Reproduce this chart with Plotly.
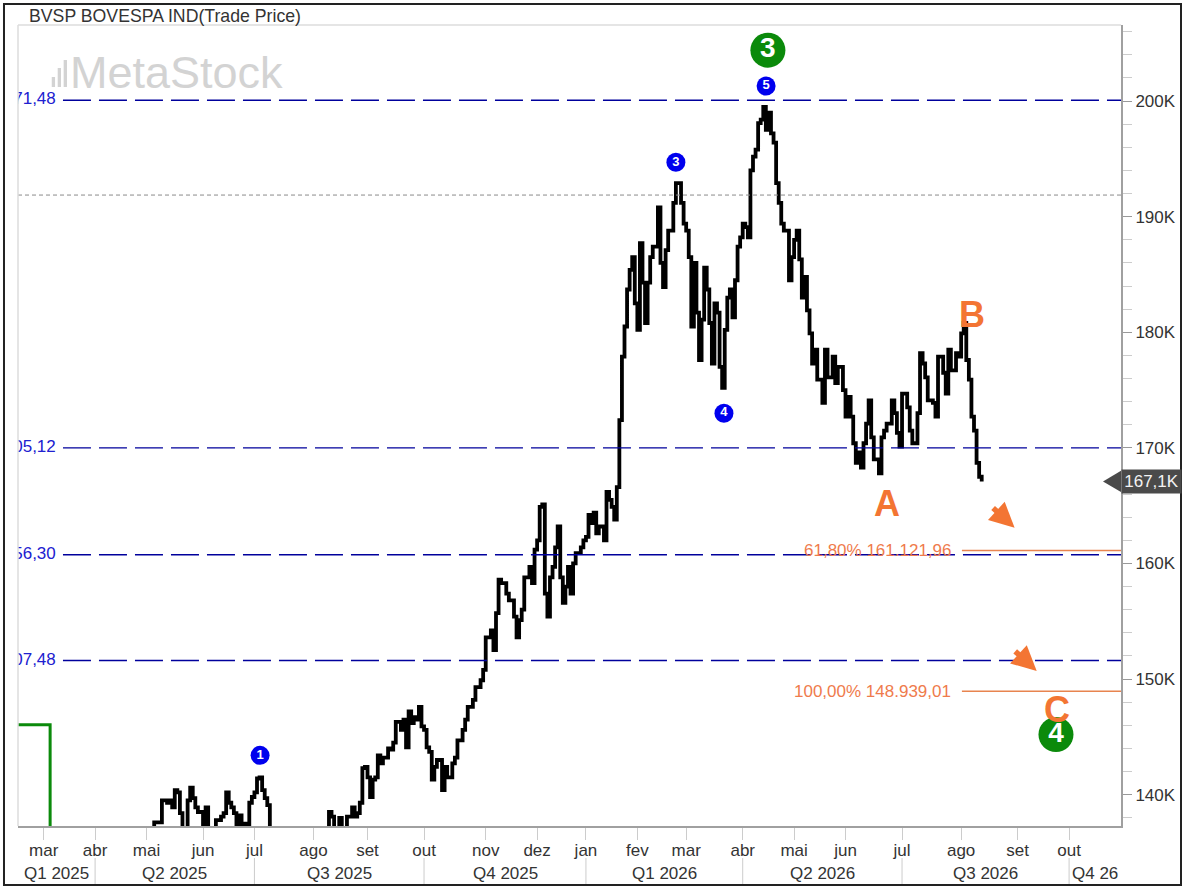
import plotly.graph_objects as go

# ---------------- data ----------------
sessions = [50, 52, 53, 55, 56, 58, 59, 60, 61, 62, 63, 64, 66, 67, 68, 69, 70, 72, 73, 74, 75, 77, 79, 80,
            81, 82, 83, 84, 85, 86, 87, 88, 89, 90, 91, 92, 93, 94, 95, 96, 97, 98, 100, 105, 112, 118,
            121, 122, 123, 125, 126, 127, 128, 130, 131, 132, 133, 134, 135, 136, 137, 138, 139, 140, 141,
            142, 144, 145, 146, 147, 149, 150, 151, 152, 153, 154, 155, 156, 157, 158, 159, 160, 161, 162,
            163, 165, 166, 167, 169, 170, 171, 173, 174, 175, 177, 178, 180, 181, 182, 184, 185, 186, 187,
            188, 189, 190, 191, 193, 194, 195, 196, 197, 198, 199, 200, 201, 202, 203, 204, 205, 206, 207,
            208, 209, 210, 211, 212, 213, 214, 215, 216, 217, 219, 220, 221, 222, 223, 224, 225, 226, 228,
            229, 230, 231, 232, 233, 234, 235, 236, 237, 238, 239, 240, 241, 242, 243, 244, 245, 246, 247,
            249, 250, 251, 252, 253, 255, 256, 258, 259, 260, 261, 262, 263, 264, 265, 266, 267, 268, 269,
            270, 271, 272, 273, 274, 275, 276, 277, 278, 279, 280, 281, 282, 283, 284, 285, 286, 287, 288,
            289, 290, 291, 292, 293, 294, 295, 296, 297, 298, 300, 301, 302, 303, 304, 305, 306, 307, 308,
            309, 310, 311, 313, 314, 315, 317, 318, 319, 321, 322, 323, 324, 325, 326, 327, 328, 329, 330,
            331, 332, 333, 335, 336, 337, 338, 340, 341, 342, 343, 344, 346, 347, 348, 350, 351, 352, 353,
            354, 356, 357, 358, 360, 361, 362, 363, 365, 366, 367, 368, 369, 370, 371, 372, 373, 374, 375]
close_k = [135.5, 136.6, 137.6, 137.6, 139.5, 139.3, 139.5, 138.9, 140.4, 140.2, 138.4, 137.0, 139.5, 140.6,
           139.7, 138.9, 138.5, 137.0, 138.9, 137.0, 136.9, 137.8, 138.1, 138.4, 140.2, 139.3, 138.9, 138.4,
           137.0, 138.2, 137.0, 137.5, 137.0, 139.3, 139.8, 140.2, 141.4, 141.5, 140.4, 139.7, 139.1, 137.0,
           135.6, 134.2, 133.5, 135.0, 138.5, 138.1, 137.0, 138.0, 137.0, 137.0, 138.1, 138.9, 138.1, 138.4,
           139.3, 142.3, 142.4, 141.5, 139.8, 141.3, 141.5, 143.4, 142.7, 143.2, 144.0, 143.9, 144.5, 146.3,
           145.6, 146.5, 144.1, 147.2, 146.2, 146.7, 146.5, 147.6, 145.9, 145.6, 144.1, 143.7, 141.3, 142.4,
           143.0, 140.4, 142.4, 141.5, 142.7, 143.2, 144.7, 145.6, 146.5, 147.6, 148.2, 149.3, 149.9, 150.8,
           153.6, 154.2, 152.5, 155.7, 158.6, 158.3, 158.3, 157.4, 156.8, 155.4, 153.6, 155.1, 156.0, 158.8,
           158.8, 159.7, 158.3, 161.2, 162.0, 164.9, 165.1, 157.4, 155.4, 158.8, 159.7, 161.4, 163.2, 158.8,
           156.6, 158.0, 159.7, 157.4, 160.0, 160.9, 161.4, 162.0, 162.3, 164.2, 163.5, 164.4, 162.6, 163.2,
           162.0, 166.2, 165.5, 164.9, 163.8, 166.6, 172.4, 177.9, 180.5, 183.7, 185.4, 186.5, 182.5, 180.2,
           187.7, 184.3, 180.8, 184.3, 186.5, 187.4, 190.8, 186.0, 183.9, 187.1, 188.8, 191.2, 192.9, 191.2,
           189.4, 188.8, 186.5, 180.5, 186.0, 181.7, 177.6, 181.1, 185.6, 183.7, 180.8, 177.3, 182.5, 181.7,
           177.0, 175.2, 180.2, 183.0, 183.7, 181.3, 184.5, 187.4, 188.2, 189.4, 189.1, 188.2, 194.0, 195.2,
           195.8, 198.1, 198.4, 199.5, 197.5, 199.0, 197.2, 196.4, 192.9, 191.2, 189.4, 188.8, 184.5, 186.5,
           188.0, 188.8, 186.3, 183.0, 184.8, 181.9, 179.9, 177.3, 178.5, 175.9, 173.9, 178.5, 176.1, 177.9,
           175.6, 177.0, 175.0, 172.7, 174.4, 172.7, 170.4, 168.7, 169.6, 168.3, 170.4, 172.1, 174.1, 170.9,
           169.0, 167.8, 170.9, 171.5, 172.1, 174.1, 173.0, 171.3, 170.1, 174.7, 173.5, 171.5, 170.4, 173.0,
           178.2, 177.3, 176.1, 174.1, 173.9, 172.7, 177.9, 176.5, 174.7, 178.5, 176.7, 178.2, 177.9, 179.9,
           180.8, 177.6, 175.9, 172.7, 171.5, 168.7, 167.5, 167.1]

month_sessions = [10, 30, 50, 72, 92, 115, 136, 158, 182, 202, 221, 241, 260, 282, 302, 322, 344, 367, 389, 409]
month_labels = ["mar", "abr", "mai", "jun", "jul", "ago", "set", "out", "nov", "dez",
                "jan", "fev", "mar", "abr", "mai", "jun", "jul", "ago", "set", "out"]
quarter_starts = [0, 30, 92, 158, 221, 282, 344, 409, 429.2]
quarter_labels = ["Q1 2025", "Q2 2025", "Q3 2025", "Q4 2025", "Q1 2026", "Q2 2026", "Q3 2026", "Q4 26"]

y_tick_values = [140, 150, 160, 170, 180, 190, 200]
y_tick_labels = ["140K", "150K", "160K", "170K", "180K", "190K", "200K"]

level_values = [200.07148, 170.00512, 160.75630, 151.60748]
level_labels = ["200.071,48", "170.005,12", "160.756,30", "151.607,48"]
pivot_level = 191.87

fib_values = [161.12196, 148.93901]
fib_labels = ["61,80% 161.121,96", "100,00% 148.939,01"]

minor_wave_x = [94.2, 256.0, 274.7, 291.1]
minor_wave_y = [143.4, 194.7, 173.0, 201.3]
minor_wave_labels = ["1", "3", "4", "5"]

major_wave_x = [291.8, 403.9]
major_wave_y = [204.4, 145.2]
major_wave_labels = ["3", "4"]

abc_x = [338.1, 371.2, 404.3]
abc_y = [164.9, 181.2, 147.1]
abc_labels = ["A", "B", "C"]

arrow_heads_x = [387.8, 396.4]
arrow_heads_y = [163.1, 150.7]

prior_wave_x = [-2, 12.5, 12.5]
prior_wave_y = [146.05, 146.05, 120.0]

last_price = 167.1
last_label = "167,1K"

X_RANGE = [0, 429.2]
Y_RANGE = [137.29, 206.58]

FONT = "Liberation Sans, Arial, sans-serif"
ORANGE = "#f37533"
GREEN = "#0b8a0b"
BLUE = "#0000ee"

fig = go.Figure()

# previous wave line (green step)
fig.add_trace(go.Scatter(x=prior_wave_x, y=prior_wave_y, mode="lines",
                         line=dict(color=GREEN, width=3), hoverinfo="skip"))

# price
fig.add_trace(go.Scatter(x=sessions, y=close_k, mode="lines",
                         line=dict(color="black", width=3.8, shape="hv"),
                         hovertemplate="%{y:.1f}K<extra></extra>"))

# clipped level labels on the left
fig.add_trace(go.Scatter(x=[14.7] * len(level_values), y=level_values, mode="text",
                         text=level_labels, textposition="middle left",
                         textfont=dict(family=FONT, size=17, color="#2020d0"),
                         cliponaxis=True, hoverinfo="skip"))

# major wave circles
fig.add_trace(go.Scatter(x=major_wave_x, y=major_wave_y, mode="markers+text",
                         marker=dict(size=35, color=GREEN),
                         text=["<b>%s</b>" % t for t in major_wave_labels],
                         textposition="middle center",
                         textfont=dict(family=FONT, size=28, color="white"),
                         cliponaxis=False, hoverinfo="skip"))

# minor wave circles
fig.add_trace(go.Scatter(x=minor_wave_x, y=minor_wave_y, mode="markers+text",
                         marker=dict(size=19, color=BLUE),
                         text=["<b>%s</b>" % t for t in minor_wave_labels],
                         textposition="middle center",
                         textfont=dict(family=FONT, size=13, color="white"),
                         cliponaxis=False, hoverinfo="skip"))

# A B C
fig.add_trace(go.Scatter(x=abc_x, y=abc_y, mode="text",
                         text=["<b>%s</b>" % t for t in abc_labels],
                         textposition="middle center",
                         textfont=dict(family=FONT, size=36, color=ORANGE),
                         cliponaxis=False, hoverinfo="skip"))

shapes = []
# blue dashed levels
for v in level_values:
    shapes.append(dict(type="line", xref="x", yref="y", x0=17.5, x1=X_RANGE[1], y0=v, y1=v,
                       line=dict(color="#00009c", width=1.3, dash="28px,8px")))
# grey dashed pivot
shapes.append(dict(type="line", xref="paper", yref="y", x0=0, x1=1, y0=pivot_level, y1=pivot_level,
                   line=dict(color="#8a8a8a", width=1, dash="4px,3px")))
# fib lines
for v in fib_values:
    shapes.append(dict(type="line", xref="x", yref="y", x0=367.3, x1=X_RANGE[1], y0=v, y1=v,
                       line=dict(color="#e8844f", width=1.5)))
# white margin strip left of the plot area (hides the cut-off part of the level labels)
shapes.append(dict(type="rect", xref="paper", yref="paper", x0=-0.02, x1=0.0, y0=0, y1=1,
                   fillcolor="white", line=dict(width=0), layer="above"))
# top & left light border of plot
shapes.append(dict(type="line", xref="paper", yref="paper", x0=0, x1=1, y0=1, y1=1,
                   line=dict(color="#dddddd", width=1.5)))
shapes.append(dict(type="line", xref="paper", yref="paper", x0=0, x1=0, y0=0, y1=1,
                   line=dict(color="#dddddd", width=1.5)))
# quarter separators
for q in quarter_starts[1:-1]:
    shapes.append(dict(type="line", xref="x", yref="paper", x0=q, x1=q, y0=-0.040, y1=-0.0737,
                       line=dict(color="#cccccc", width=1)))
# last price pointer
shapes.append(dict(type="path", xref="paper", yref="y",
                   path="M 0.98368,%f L 1.0,%f L 1.0,%f Z" % (last_price, last_price - 0.92, last_price + 0.92),
                   fillcolor="#4a4a4a", line=dict(width=0)))
# watermark bars
for bx0, bx1, by1 in [(0.0306, 0.0336, 0.9351), (0.0360, 0.0390, 0.9463), (0.0414, 0.0444, 0.9563)]:
    shapes.append(dict(type="rect", xref="paper", yref="paper", x0=bx0, x1=bx1, y0=0.9226, y1=by1,
                       fillcolor="#d3d3d3", line=dict(width=0), layer="below"))
# outer frame
shapes.append(dict(type="rect", xref="paper", yref="paper", x0=-0.0127, x1=1.0544, y0=-0.0737, y1=1.0262,
                   line=dict(color="#222222", width=2)))

annotations = []
annotations.append(dict(xref="paper", yref="paper", x=0.00816, y=1.0112, xanchor="left", yanchor="middle",
                        text="BVSP BOVESPA IND(Trade Price)", showarrow=False,
                        font=dict(family=FONT, size=17.7, color="#333333")))
annotations.append(dict(xref="paper", yref="paper", x=0.0455, y=0.9413, xanchor="left", yanchor="middle",
                        text="MetaStock", showarrow=False,
                        font=dict(family=FONT, size=45, color="#d3d3d3")))
for v, t in zip(fib_values, fib_labels):
    annotations.append(dict(xref="x", yref="y", x=363.8, y=v, xanchor="right", yanchor="middle",
                            text=t, showarrow=False, font=dict(family=FONT, size=17, color="#ef7b4c")))
for hx, hy in zip(arrow_heads_x, arrow_heads_y):
    annotations.append(dict(xref="x", yref="y", x=hx, y=hy, ax=-23, ay=-21, text="",
                            showarrow=True, arrowhead=2, arrowsize=0.9, arrowwidth=5.5,
                            arrowcolor=ORANGE, standoff=0))
for i, lab in enumerate(quarter_labels):
    c = (quarter_starts[i] + quarter_starts[i + 1]) / 2
    annotations.append(dict(xref="x", yref="paper", x=c, y=-0.0587, xanchor="center", yanchor="middle",
                            text=lab, showarrow=False, font=dict(family=FONT, size=17, color="#333333")))
annotations.append(dict(xref="paper", yref="y", x=1.0, y=last_price, xanchor="left", yanchor="middle",
                        text=last_label, showarrow=False, bgcolor="#4a4a4a", width=57, height=21,
                        font=dict(family=FONT, size=17, color="#f2f2f2")))

fig.update_layout(
    width=1187, height=887,
    margin=dict(l=18, r=66, t=25, b=61),
    paper_bgcolor="white", plot_bgcolor="white",
    showlegend=False,
    shapes=shapes, annotations=annotations,
    xaxis=dict(range=X_RANGE, tickmode="array", tickvals=month_sessions, ticktext=month_labels,
               ticks="outside", ticklen=12, tickcolor="#cccccc", showgrid=False, zeroline=False,
               showline=True, linecolor="#a0a0a0", linewidth=2, ticklabelstandoff=-4,
               tickfont=dict(family=FONT, size=17, color="#333333")),
    yaxis=dict(range=Y_RANGE, side="right", tickmode="array", tickvals=y_tick_values, ticktext=y_tick_labels,
               ticks="outside", ticklen=9, tickcolor="#999999", showgrid=False, zeroline=False,
               showline=True, linecolor="#a0a0a0", linewidth=2,
               minor=dict(tick0=140, dtick=2, ticks="outside", ticklen=9, tickcolor="#cccccc", showgrid=False),
               tickfont=dict(family=FONT, size=17, color="#333333")),
)

fig.write_html("out.html", config={"displayModeBar": False},
               post_script="document.body.style.margin='0';document.body.style.overflow='hidden';")
